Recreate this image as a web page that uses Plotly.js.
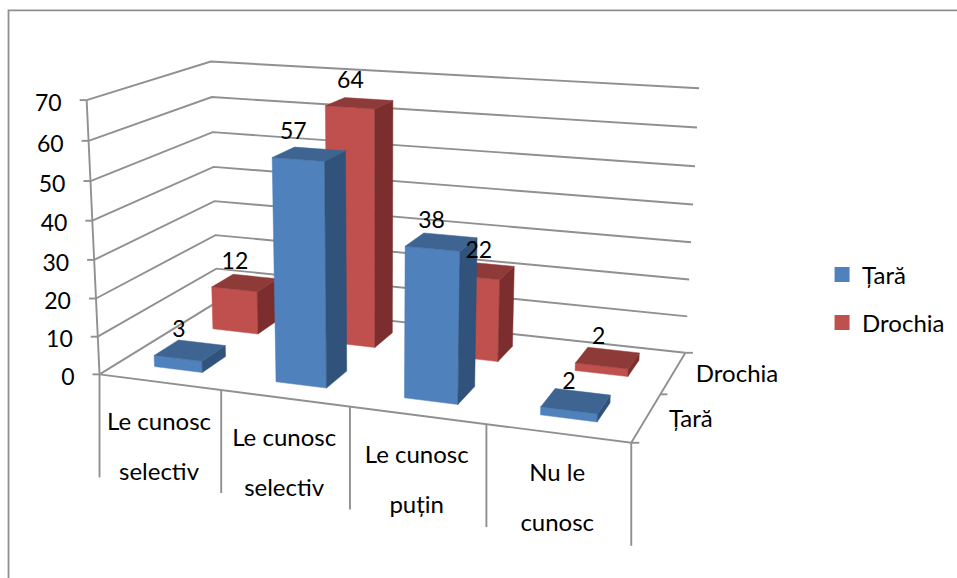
<!DOCTYPE html>
<html>
<head>
<meta charset="utf-8">
<script src="https://cdn.plot.ly/plotly-3.0.1.min.js"></script>
<style>html,body{margin:0;padding:0;background:#fff}#chart{width:957px;height:578px}text{font-variant-ligatures:none}</style>
</head>
<body>
<div id="chart"></div>
<script>
// ---------- data ----------
const categoryLines = [["Le cunosc","selectiv"],["Le cunosc","selectiv"],["Le cunosc","puțin"],["Nu le","cunosc"]];
const seriesNames = ["Țară","Drochia"];
const tara = [3,57,38,2];
const drochia = [12,64,22,2];
const valueTicks = [0,10,20,30,40,50,60,70];

// ---------- style ----------
const FONT = "Lato, Carlito, sans-serif";
const FS = 24;
const FS_NUM = 23;
const GRID = "#909090";
const faces = [
  {front:"#4F81BD", top:"#3E6592", side:"#31527A"},
  {front:"#C0504D", top:"#8E3A38", side:"#7B2E2D"}
];
const labelOffsets = [
  [[-11,-19],[-16,-21],[-10,-20],[-7,-18]],
  [[-10,-20],[-9,-21],[-3,-18],[-9,-20]]
];

// ---------- camera: (category, series depth, value) -> page position ----------
const calib = [
  [0,0,0,100,374],[1,0,0,221,390],[2,0,0,350,407],[3,0,0,486,425],[4,0,0,631.5,442],
  [4,2,0,685.5,352.5],[0,2,0,217,302],[0,0,70,86.5,100],[0,2,70,211,61.5],[4,2,70,699,88.5]
];
function fit(pts){
  const A=[],b=[];
  pts.forEach(([X,Y,Z,x,y])=>{
    A.push([X,Y,Z,1,0,0,0,0,-x*X,-x*Y,-x*Z]);b.push(x);
    A.push([0,0,0,0,X,Y,Z,1,-y*X,-y*Y,-y*Z]);b.push(y);
  });
  const n=11,M=[];
  for(let i=0;i<n;i++){M.push([]);for(let j=0;j<=n;j++){let s=0;for(let k=0;k<A.length;k++)s+=A[k][i]*(j<n?A[k][j]:b[k]);M[i].push(s);}}
  for(let c=0;c<n;c++){
    let p=c;for(let r=c+1;r<n;r++)if(Math.abs(M[r][c])>Math.abs(M[p][c]))p=r;
    [M[c],M[p]]=[M[p],M[c]];
    for(let r=0;r<n;r++){if(r===c)continue;const f=M[r][c]/M[c][c];for(let j=c;j<=n;j++)M[r][j]-=f*M[c][j];}
  }
  return M.map((r,i)=>r[n]/r[i]);
}
const P=fit(calib);
function proj(u,v,w){
  const d=P[8]*u+P[9]*v+P[10]*w+1;
  return [(P[0]*u+P[1]*v+P[2]*w+P[3])/d,(P[4]*u+P[5]*v+P[6]*w+P[7])/d];
}

// ---------- traces ----------
const traces=[];
function line(pts,w){
  traces.push({type:"scatter",mode:"lines",x:pts.map(p=>p[0]),y:pts.map(p=>p[1]),
    line:{color:GRID,width:w||1.9},hoverinfo:"skip",showlegend:false});
}
function poly(pts,color){
  traces.push({type:"scatter",mode:"lines",fill:"toself",fillcolor:color,
    x:pts.map(p=>p[0]).concat(pts[0][0]),y:pts.map(p=>p[1]).concat(pts[0][1]),
    line:{color:color,width:0.5},hoverinfo:"skip",showlegend:false});
}
function text(xs,ys,ts,pos,size){
  traces.push({type:"scatter",mode:"text",x:xs,y:ys,text:ts,textposition:pos||"middle center",
    textfont:{family:FONT,size:size||FS,color:"#000"},hoverinfo:"skip",showlegend:false,cliponaxis:false});
}
const nCat=categoryLines.length;
// gridlines
valueTicks.forEach(t=>{
  line([proj(0,0,t),proj(0,2,t),proj(4,2,t)]);
  const a=proj(0,0,t);
  line([[a[0]-7,a[1]],a]);
});
// axes
line([proj(0,0,0),proj(0,0,70)]);
line([proj(0,0,0),proj(4,0,0),proj(4,2,0)]);
{const e=proj(4,2,0);line([e,[e[0]+7.5,e[1]]]);
 const m=proj(4,1,0);line([m,[m[0]+7,m[1]]]);
 const f=proj(4,0,0);line([f,[f[0]+8,f[1]]]);}
for(let i=0;i<=nCat;i++){const a=proj(i,0,0);line([a,[a[0],a[1]+103]]);}

// bars back to front
const U0=0.3,U1=0.7,V0=0.3,V1=0.7;
[1,0].forEach(s=>{
  const vals=s===0?tara:drochia;
  vals.forEach((h,i)=>{
    const u0=i+U0,u1=i+U1,v0=s+V0,v1=s+V1,c=faces[s];
    poly([proj(u0,v0,0),proj(u1,v0,0),proj(u1,v0,h),proj(u0,v0,h)],c.front);
    poly([proj(u1,v0,0),proj(u1,v1,0),proj(u1,v1,h),proj(u1,v0,h)],c.side);
    poly([proj(u0,v0,h),proj(u1,v0,h),proj(u1,v1,h),proj(u0,v1,h)],c.top);
  });
});
// data labels
[1,0].forEach(s=>{
  const vals=s===0?tara:drochia,xs=[],ys=[];
  vals.forEach((h,i)=>{const p=proj(i+0.5,s+0.5,h);xs.push(p[0]+labelOffsets[s][i][0]);ys.push(p[1]+labelOffsets[s][i][1]);});
  text(xs,ys,vals.map(String),"middle center",FS_NUM);
});
// value tick labels
{const xs=[],ys=[];valueTicks.forEach(t=>{const p=proj(0,0,t);xs.push(p[0]-25);ys.push(p[1]+5);});
 text(xs,ys,valueTicks.map(String),"middle left",FS_NUM);}
// category labels, one line at a time
categoryLines.forEach((lines,i)=>{
  const p=proj(i+0.5,0,0);
  text([p[0]-0.5,p[0]-0.5],[p[1]+42,p[1]+92],lines);
});
// series axis labels
seriesNames.forEach((n,s)=>{
  const p=proj(4,s+0.5,0);
  text([p[0]+22.5],[p[1]+3.5],[n],"middle right");
});
// legend entries
seriesNames.forEach((n,s)=>{
  traces.push({type:"scatter",mode:"markers",name:n,x:[null],y:[null],legendgroup:n,
    marker:{symbol:"square",size:15,color:faces[s].front},hoverinfo:"skip",showlegend:true});
});

const layout={
  width:957,height:578,margin:{l:0,r:0,t:0,b:0},
  paper_bgcolor:"#fff",plot_bgcolor:"#fff",
  xaxis:{range:[0,957],visible:false,fixedrange:true},
  yaxis:{range:[578,0],visible:false,fixedrange:true},
  showlegend:true,
  legend:{x:0.859,y:0.5635,xanchor:"left",yanchor:"top",bgcolor:"rgba(0,0,0,0)",
    font:{family:FONT,size:FS,color:"#000"},tracegroupgap:14,traceorder:"grouped"},
  shapes:[{type:"path",xref:"paper",yref:"paper",
    path:"M 0.0089 0 L 0.0089 0.982 L 1 0.982",line:{color:"#8f8f8f",width:1.8}}]
};
Plotly.newPlot("chart",traces,layout,{displayModeBar:false,staticPlot:true});
</script>
</body>
</html>
